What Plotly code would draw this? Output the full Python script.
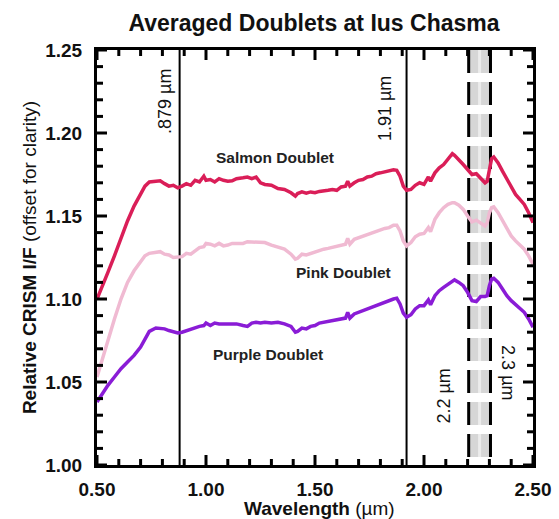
import plotly.graph_objects as go

wavelength = [0.50,0.52,0.55,0.58,0.61,0.64,0.67,0.70,0.72,0.74,0.77,0.79,0.81,0.83,0.85,0.87,0.89,0.91,0.93,0.95,
              0.97,0.99,1.00,1.02,1.04,1.06,1.08,1.10,1.12,1.14,1.17,1.19,1.21,1.23,1.25,1.27,1.30,1.33,1.36,1.39,
              1.41,1.42,1.44,1.46,1.48,1.50,1.52,1.54,1.56,1.58,1.60,1.62,1.64,1.65,1.66,1.68,1.70,1.72,1.74,1.76,
              1.78,1.80,1.82,1.84,1.86,1.875,1.89,1.905,1.92,1.94,1.96,1.98,2.00,2.02,2.03,2.05,2.07,2.09,2.11,2.13,
              2.14,2.16,2.18,2.20,2.22,2.24,2.26,2.28,2.29,2.30,2.31,2.32,2.34,2.36,2.38,2.40,2.42,2.44,2.46,2.48,2.50]

salmon = [1.100,1.106,1.116,1.126,1.137,1.147,1.156,1.163,1.168,1.1705,1.171,1.1712,1.1695,1.168,1.1685,1.167,1.168,1.1695,1.1685,1.1715,
          1.1705,1.174,1.1715,1.172,1.1705,1.1725,1.1715,1.171,1.1712,1.1725,1.173,1.1735,1.1725,1.1735,1.170,1.169,1.1685,1.1665,1.166,1.164,
          1.162,1.1635,1.1645,1.1638,1.1645,1.164,1.1648,1.165,1.1655,1.166,1.1655,1.1675,1.168,1.171,1.168,1.170,1.1715,1.172,1.1735,1.174,
          1.1755,1.176,1.1765,1.177,1.1778,1.1775,1.174,1.168,1.1655,1.166,1.1685,1.170,1.169,1.1735,1.171,1.176,1.179,1.181,1.184,1.1875,
          1.1865,1.184,1.181,1.178,1.175,1.1755,1.173,1.170,1.171,1.178,1.1845,1.1855,1.182,1.177,1.172,1.167,1.163,1.160,1.157,1.152,1.146]

pink = [1.053,1.062,1.075,1.088,1.100,1.110,1.117,1.122,1.126,1.1275,1.128,1.1285,1.127,1.1265,1.125,1.125,1.1255,1.1275,1.127,1.129,
        1.131,1.1315,1.1335,1.133,1.132,1.1335,1.132,1.1325,1.1335,1.1335,1.1335,1.1345,1.1345,1.1345,1.134,1.134,1.1325,1.131,1.130,1.127,
        1.124,1.1245,1.127,1.1265,1.1275,1.1285,1.1295,1.130,1.1305,1.131,1.132,1.1325,1.133,1.1365,1.133,1.136,1.137,1.138,1.139,1.140,
        1.141,1.142,1.1425,1.143,1.1445,1.1445,1.141,1.135,1.132,1.134,1.1375,1.139,1.1395,1.143,1.1405,1.148,1.152,1.155,1.157,1.158,
        1.158,1.1565,1.154,1.150,1.1465,1.1475,1.146,1.144,1.146,1.152,1.155,1.1555,1.152,1.147,1.142,1.138,1.135,1.1325,1.130,1.126,1.121]

purple = [1.038,1.042,1.048,1.053,1.058,1.062,1.066,1.071,1.076,1.0805,1.0825,1.0825,1.082,1.081,1.0805,1.0795,1.080,1.081,1.0815,1.083,
          1.0835,1.084,1.0855,1.084,1.0855,1.085,1.085,1.0855,1.0855,1.085,1.084,1.0835,1.0855,1.086,1.0855,1.086,1.0855,1.086,1.085,1.0835,
          1.080,1.0805,1.0825,1.082,1.0835,1.084,1.0855,1.086,1.0865,1.087,1.087,1.088,1.0885,1.092,1.0885,1.091,1.092,1.093,1.094,1.095,
          1.0965,1.0975,1.098,1.099,1.100,1.1005,1.097,1.0915,1.089,1.0905,1.094,1.096,1.096,1.0995,1.0965,1.102,1.105,1.107,1.109,1.111,
          1.1115,1.110,1.108,1.104,1.099,1.0985,1.1015,1.1015,1.102,1.108,1.112,1.1125,1.110,1.106,1.102,1.099,1.0965,1.094,1.092,1.088,1.083]

series_names = ["Salmon Doublet", "Pink Doublet", "Purple Doublet"]
series_colors = ["rgb(218,30,88)", "rgb(240,186,210)", "rgb(138,28,214)"]
solid_lines = [0.879, 1.92]
dashed_lines = [2.205, 2.305]

x_major_ticks = [0.5, 1.0, 1.5, 2.0, 2.5]
x_minor_ticks = [0.6, 0.7, 0.8, 0.9, 1.1, 1.2, 1.3, 1.4, 1.6, 1.7, 1.8, 1.9, 2.1, 2.2, 2.3, 2.4]
y_major_ticks = [1.00, 1.05, 1.10, 1.15, 1.20, 1.25]
y_minor_ticks = [1.01, 1.02, 1.03, 1.04, 1.06, 1.07, 1.08, 1.09, 1.11, 1.12, 1.13, 1.14,
                 1.16, 1.17, 1.18, 1.19, 1.21, 1.22, 1.23, 1.24]

FONT = "Arial, Liberation Sans, sans-serif"
W, H = 559, 519
ML, MR, MT, MB = 97, 26, 50, 54
XR = [0.5, 2.5]
YR = [1.0, 1.25]
px_x = (XR[1] - XR[0]) / (W - ML - MR)   # data units per pixel, x
px_y = (YR[1] - YR[0]) / (H - MT - MB)   # data units per pixel, y

fig = go.Figure()

band_center = (dashed_lines[0] + dashed_lines[1]) / 2
fig.add_shape(type="line", x0=band_center, x1=band_center, y0=1.25, y1=1.0, xref="x", yref="y",
              line=dict(color="rgb(214,214,214)", width=19, dash="23px,9px"), layer="below")
fig.add_shape(type="line", x0=band_center, x1=band_center, y0=1.25, y1=1.0, xref="x", yref="y",
              line=dict(color="rgb(236,236,236)", width=3, dash="23px,9px"), layer="below")

for xv in dashed_lines:
    fig.add_shape(type="line", x0=xv, x1=xv, y0=1.25, y1=1.0, xref="x", yref="y",
                  line=dict(color="black", width=3, dash="23px,9px"), layer="below")
for xv in solid_lines:
    fig.add_shape(type="line", x0=xv, x1=xv, y0=1.0, y1=1.25, xref="x", yref="y",
                  line=dict(color="black", width=2), layer="below")

# inside tick marks on all four sides (axis decoration), in data coordinates
for ticks, L in ((x_major_ticks, 10), (x_minor_ticks, 6)):
    for xv in ticks:
        fig.add_shape(type="line", xref="x", yref="y", x0=xv, x1=xv,
                      y0=YR[0], y1=YR[0] + L * px_y, line=dict(color="black", width=3))
        fig.add_shape(type="line", xref="x", yref="y", x0=xv, x1=xv,
                      y0=YR[1], y1=YR[1] - L * px_y, line=dict(color="black", width=3))
for ticks, L in ((y_major_ticks, 10), (y_minor_ticks, 6)):
    for yv in ticks:
        fig.add_shape(type="line", xref="x", yref="y", y0=yv, y1=yv,
                      x0=XR[0], x1=XR[0] + L * px_x, line=dict(color="black", width=3))
        fig.add_shape(type="line", xref="x", yref="y", y0=yv, y1=yv,
                      x0=XR[1], x1=XR[1] - L * px_x, line=dict(color="black", width=3))

for name, vals, col in zip(series_names, [salmon, pink, purple], series_colors):
    fig.add_trace(go.Scatter(x=wavelength, y=vals, mode="lines", name=name,
                             line=dict(color=col, width=3.5), showlegend=False))

labels = [
    (1.317, 1.1855, "<b>Salmon Doublet</b>"),
    (1.63, 1.116, "<b>Pink Doublet</b>"),
    (1.284, 1.0663, "<b>Purple Doublet</b>"),
]
for x, y, t in labels:
    fig.add_annotation(x=x, y=y, text=t, showarrow=False, font=dict(family=FONT, size=15.5, color="#222"))

rot_labels = [
    (0.812, 1.2187, ".879 µm", -90),
    (1.821, 1.215, "1.91 µm", -90),
    (2.09, 1.0416, "2.2 µm", -90),
    (2.385, 1.0554, "2.3 µm", 90),
]
for x, y, t, a in rot_labels:
    fig.add_annotation(x=x, y=y, text=t, showarrow=False, textangle=a,
                       font=dict(family=FONT, size=18, color="#111"))

# x-axis title placed explicitly below the tick labels
fig.add_annotation(xref="paper", yref="paper", x=0.51, y=-0.104, xanchor="center", yanchor="middle",
                   text="<b>Wavelength</b> (µm)", showarrow=False,
                   font=dict(family=FONT, size=19, color="#111"))

fig.update_xaxes(range=XR, tickvals=x_major_ticks, tickformat=".2f", automargin=False,
                 showline=True, linewidth=3, linecolor="black", mirror=True,
                 ticks="", showgrid=False, zeroline=False, ticklabelstandoff=5,
                 tickfont=dict(family=FONT, size=19, color="#111", weight="bold"))
fig.update_yaxes(range=YR, tickvals=y_major_ticks, tickformat=".2f", automargin=False,
                 showline=True, linewidth=3, linecolor="black", mirror=True,
                 ticks="", showgrid=False, zeroline=False, ticklabelstandoff=8,
                 tickfont=dict(family=FONT, size=19, color="#111", weight="bold"),
                 title=dict(text="<b>Relative CRISM I/F</b> (offset for clarity)", font=dict(family=FONT, size=19, color="#111"), standoff=4))

fig.update_layout(
    width=W, height=H,
    margin=dict(l=ML, r=MR, t=MT, b=MB),
    paper_bgcolor="white", plot_bgcolor="white",
    title=dict(text="<b>Averaged Doublets at Ius Chasma</b>", x=0.5617, xanchor="center", y=0.955, yanchor="middle",
               font=dict(family=FONT, size=23, color="#111")),
)

fig.write_html("out.html")
